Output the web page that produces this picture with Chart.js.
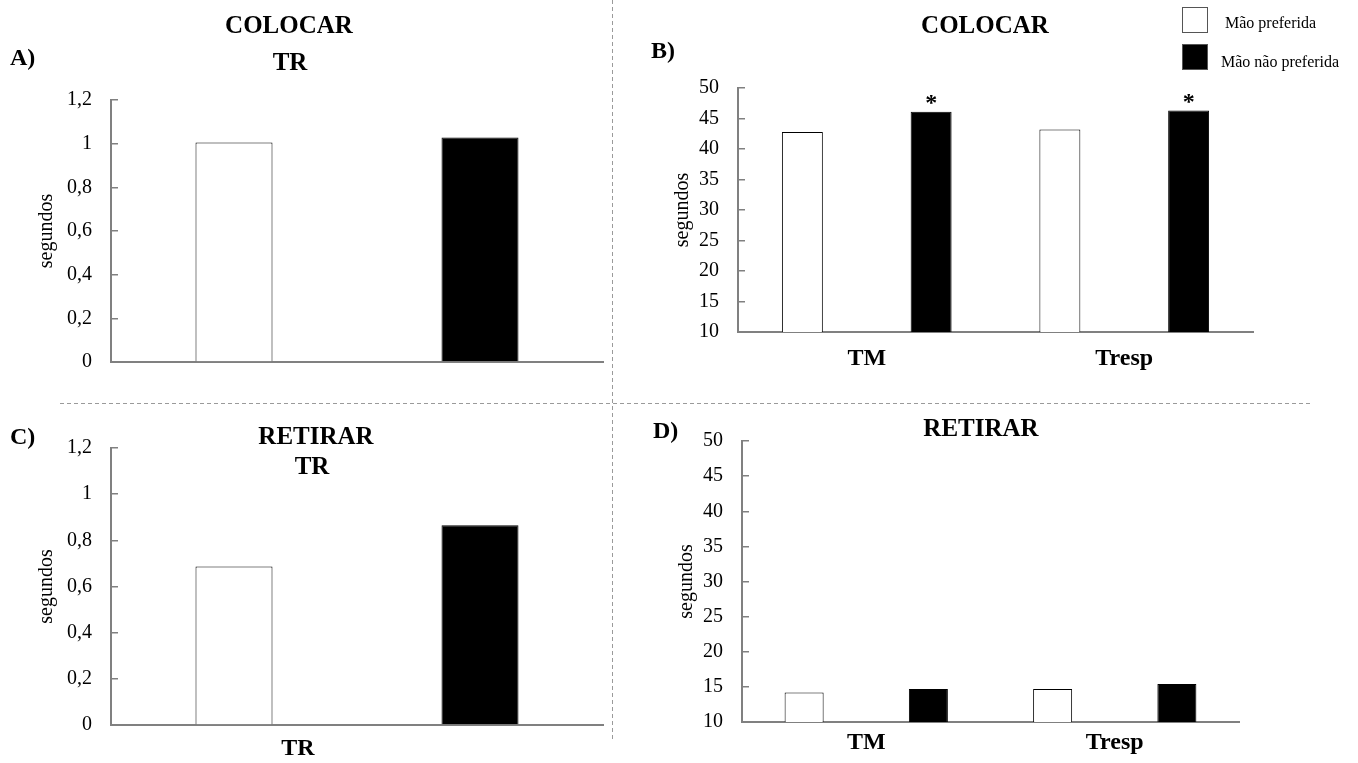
<!DOCTYPE html>
<html>
<head>
<meta charset="utf-8">
<script src="https://cdn.jsdelivr.net/npm/chart.js@4.4.1/dist/chart.umd.min.js"></script>
<style>
    html, body { margin: 0; padding: 0; background: #fff; }
    #page {
        position: relative;
        width: 1358px;
        height: 763px;
        overflow: hidden;
        font-family: 'Liberation Serif', 'Times New Roman', serif;
        color: #000;
    }
    .panel { position: absolute; }
    .title {
        position: absolute;
        font-weight: bold;
        font-size: 25px;
        line-height: 1;
        white-space: nowrap;
        transform: translate(-50%, -50%);
    }
    .letter {
        position: absolute;
        font-weight: bold;
        font-size: 24px;
        line-height: 1;
        transform: translateY(-50%);
    }
    .vdash {
        position: absolute;
        width: 1px;
        background: repeating-linear-gradient(to bottom, #9a9a9a 0 4px, transparent 4px 7px);
    }
    .hdash {
        position: absolute;
        height: 1px;
        background: repeating-linear-gradient(to right, #9a9a9a 0 4px, transparent 4px 7px);
    }
    .legend-item { position: absolute; font-size: 16px; line-height: 1; white-space: nowrap; }
    .legend-swatch { position: absolute; width: 26px; height: 26px; box-sizing: border-box; border: 1px solid #555; }
</style>
</head>
<body>
<div id="page">
    <canvas id="chartA" class="panel" width="613" height="400" style="left:0;top:0"></canvas>
    <canvas id="chartB" class="panel" width="745" height="400" style="left:613px;top:0"></canvas>
    <canvas id="chartC" class="panel" width="613" height="360" style="left:0;top:403px"></canvas>
    <canvas id="chartD" class="panel" width="745" height="360" style="left:613px;top:403px"></canvas>

    <div class="vdash" style="left:612px;top:0;height:740px"></div>
    <div class="hdash" style="left:60px;top:403px;width:1253px"></div>

    <div class="letter" style="left:10px;top:57px">A)</div>
    <div class="letter" style="left:651px;top:50px">B)</div>
    <div class="letter" style="left:10px;top:436px">C)</div>
    <div class="letter" style="left:653px;top:430px">D)</div>

    <div class="title" style="left:289px;top:24px">COLOCAR</div>
    <div class="title" style="left:290px;top:61px">TR</div>
    <div class="title" style="left:985px;top:24px">COLOCAR</div>
    <div class="title" style="left:316px;top:435px">RETIRAR</div>
    <div class="title" style="left:312px;top:465px">TR</div>
    <div class="title" style="left:981px;top:427px">RETIRAR</div>

    <div id="legend"></div>
</div>
<script>
// Series names and fills
const seriesNames = ['Mão preferida', 'Mão não preferida'];
const seriesFill = ['#ffffff', '#000000'];

// Reaction time (TR) panels: one category
const trLabels = ['TR'];
const colocarTrPref = [1.005];
const colocarTrNonPref = [1.028];
const retirarTrPref = [0.687];
const retirarTrNonPref = [0.865];

// Movement / response time panels
const timeLabels = ['TM', 'Tresp'];
const colocarPref = [42.8, 43.2];
const colocarNonPref = [46.1, 46.3];
const retirarPref = [14.2, 14.7];
const retirarNonPref = [14.7, 15.4];

// Significant differences (asterisk over the non preferred hand bar)
const colocarSig = [true, true];
const retirarSig = [false, false];

const axisGray = '#808080';
Chart.defaults.font.family = "'Liberation Serif', 'Times New Roman', serif";
Chart.defaults.color = '#000';

// Format tick with a decimal comma
function formatTick(value) {
    return String(Math.round(value * 10) / 10).replace('.', ',');
}

// Draw asterisks above flagged bars
const starPlugin = {
    id: 'stars',
    afterDatasetsDraw(chart, args, opts) {
        if (!opts.flags) return;
        const ctx = chart.ctx;
        const meta = chart.getDatasetMeta(1);
        ctx.save();
        ctx.font = "bold 24px 'Liberation Serif'";
        ctx.fillStyle = '#000';
        ctx.textAlign = 'center';
        ctx.textBaseline = 'alphabetic';
        meta.data.forEach((bar, i) => {
            if (opts.flags[i]) ctx.fillText('*', bar.x, bar.y - 2);
        });
        ctx.restore();
    }
};

function buildChart(id, labels, prefData, nonPrefData, p) {
    return new Chart(document.getElementById(id), {
        type: 'bar',
        data: {
            labels: labels,
            datasets: [
                {
                    label: seriesNames[0],
                    data: prefData,
                    backgroundColor: seriesFill[0],
                    borderColor: '#000',
                    borderWidth: 1
                },
                {
                    label: seriesNames[1],
                    data: nonPrefData,
                    backgroundColor: seriesFill[1],
                    borderColor: '#000',
                    borderWidth: 1
                }
            ]
        },
        options: {
            responsive: false,
            animation: false,
            events: [],
            layout: { padding: p.pad },
            datasets: {
                bar: { categoryPercentage: 1, barPercentage: p.barPct }
            },
            plugins: {
                legend: { display: false },
                tooltip: { enabled: false },
                stars: { flags: p.flags }
            },
            scales: {
                x: {
                    grid: { display: false, drawTicks: false },
                    border: { color: axisGray, width: 2 },
                    ticks: {
                        display: p.showX,
                        color: '#000',
                        font: { size: 24, weight: 'bold' },
                        padding: p.xPad,
                        labelOffset: p.labelOffset || 0
                    },
                    afterFit: function(scale) { scale.height = p.xHeight; }
                },
                y: {
                    min: p.min,
                    max: p.max,
                    ticks: {
                        stepSize: p.step,
                        color: '#000',
                        font: { size: 20 },
                        padding: 26,
                        callback: formatTick
                    },
                    grid: {
                        drawOnChartArea: false,
                        tickLength: -7,
                        color: axisGray,
                        lineWidth: 1.5
                    },
                    border: { color: axisGray, width: 2 },
                    title: {
                        display: true,
                        text: 'segundos',
                        color: '#000',
                        font: { size: 20 },
                        padding: { top: p.titlePad, bottom: 0 }
                    },
                    afterFit: function(scale) { scale.width = p.yWidth; }
                }
            }
        },
        plugins: [starPlugin]
    });
}

// A) COLOCAR TR
buildChart('chartA', trLabels, colocarTrPref, colocarTrNonPref, {
    pad: { top: 100, right: 10, bottom: 0, left: 0 },
    barPct: 0.313, min: 0, max: 1.2, step: 0.2,
    showX: false, xPad: 0, xHeight: 19,
    yWidth: 111, titlePad: 35
});

// B) COLOCAR TM / Tresp
buildChart('chartB', timeLabels, colocarPref, colocarNonPref, {
    pad: { top: 88, right: 105, bottom: 0, left: 0 },
    barPct: 0.318, min: 10, max: 50, step: 5,
    showX: true, xPad: 12, xHeight: 68,
    yWidth: 125, titlePad: 58, flags: colocarSig
});

// C) RETIRAR TR
buildChart('chartC', trLabels, retirarTrPref, retirarTrNonPref, {
    pad: { top: 45, right: 10, bottom: 0, left: 0 },
    barPct: 0.313, min: 0, max: 1.2, step: 0.2,
    showX: true, xPad: 9, xHeight: 34, labelOffset: -59,
    yWidth: 111, titlePad: 35
});

// D) RETIRAR TM / Tresp
buildChart('chartD', timeLabels, retirarPref, retirarNonPref, {
    pad: { top: 38, right: 119, bottom: 0, left: 0 },
    barPct: 0.314, min: 10, max: 50, step: 5,
    showX: true, xPad: 6, xHeight: 41,
    yWidth: 129, titlePad: 62, flags: retirarSig
});

// Legend
const legend = document.getElementById('legend');
const legendRows = [
    { swatchTop: 7, textLeft: 1225, textTop: 23 },
    { swatchTop: 44, textLeft: 1221, textTop: 62 }
];
seriesNames.forEach((name, i) => {
    const sw = document.createElement('div');
    sw.className = 'legend-swatch';
    sw.style.left = '1182px';
    sw.style.top = legendRows[i].swatchTop + 'px';
    sw.style.background = seriesFill[i];
    legend.appendChild(sw);

    const txt = document.createElement('div');
    txt.className = 'legend-item';
    txt.style.left = legendRows[i].textLeft + 'px';
    txt.style.top = (legendRows[i].textTop - 8) + 'px';
    txt.textContent = name;
    legend.appendChild(txt);
});
</script>
</body>
</html>
